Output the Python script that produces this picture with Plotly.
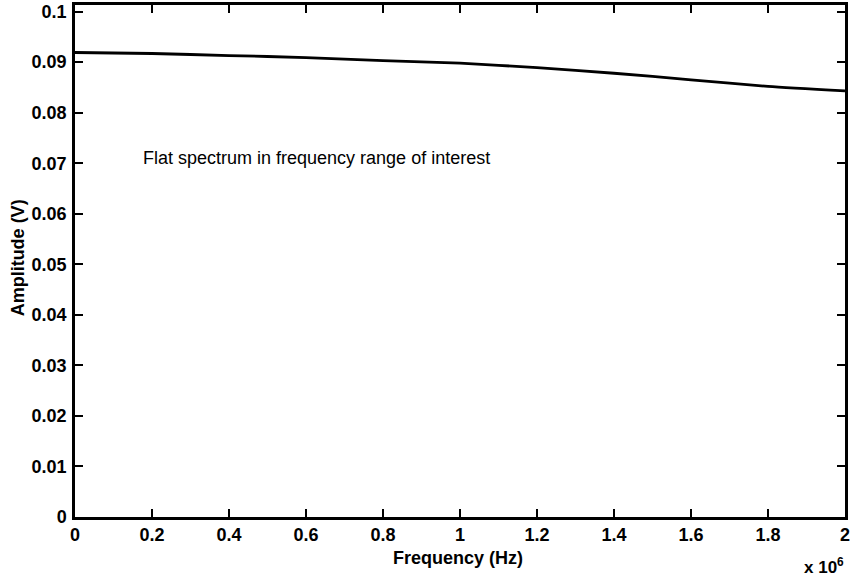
import plotly.graph_objects as go

# Measured spectrum amplitude across the band
freq_hz = [0, 0.2e6, 0.4e6, 0.6e6, 0.8e6, 1.0e6, 1.2e6, 1.4e6, 1.6e6, 1.8e6, 2.0e6]
amplitude_v = [0.0919, 0.0917, 0.0913, 0.0909, 0.0903, 0.0898, 0.0889, 0.0878, 0.0865, 0.0852, 0.0843]

x_tick_vals = [0, 0.2e6, 0.4e6, 0.6e6, 0.8e6, 1.0e6, 1.2e6, 1.4e6, 1.6e6, 1.8e6, 2.0e6]
x_tick_text = ["0", "0.2", "0.4", "0.6", "0.8", "1", "1.2", "1.4", "1.6", "1.8", "2"]
y_tick_vals = [0, 0.01, 0.02, 0.03, 0.04, 0.05, 0.06, 0.07, 0.08, 0.09, 0.1]
y_tick_text = ["0", "0.01", "0.02", "0.03", "0.04", "0.05", "0.06", "0.07", "0.08", "0.09", "0.1"]

FONT = "Liberation Sans, Arial, Helvetica, sans-serif"
W, H = 852, 581
L, R, T, B = 75, 2, 5, 64


def px(x):
    return (x - L) / (W - L - R)


def py(y):
    return (H - B - y) / (H - T - B)


fig = go.Figure()
fig.add_trace(go.Scatter(
    x=freq_hz, y=amplitude_v, mode="lines",
    line=dict(color="black", width=2.8, shape="spline", smoothing=0.6),
    showlegend=False, hoverinfo="skip",
))

axis_common = dict(
    showline=True, linecolor="black", linewidth=2.5, mirror="ticks",
    ticks="inside", ticklen=8, tickwidth=2, tickcolor="black",
    showgrid=False, zeroline=False, ticklabeloverflow="allow",
    tickfont=dict(family=FONT, size=18, color="black", weight="bold"),
)

fig.update_xaxes(range=[0, 2e6], tickmode="array", tickvals=x_tick_vals,
                 ticktext=x_tick_text, **axis_common)
fig.update_yaxes(range=[0, 0.1013], tickmode="array", tickvals=y_tick_vals,
                 ticktext=y_tick_text, ticklabelstandoff=2, **axis_common)

annotations = [
    dict(text="Frequency (Hz)", x=px(460), y=py(558), xref="paper", yref="paper",
         showarrow=False, xanchor="center", yanchor="middle",
         font=dict(family=FONT, size=18, color="black", weight="bold")),
    dict(text="Amplitude (V)", x=px(18), y=py(258), xref="paper", yref="paper",
         showarrow=False, xanchor="center", yanchor="middle", textangle=-90,
         font=dict(family=FONT, size=18, color="black", weight="bold")),
    dict(text="x 10<sup>6</sup>", x=px(851), y=py(566), xref="paper", yref="paper",
         showarrow=False, xanchor="right", yanchor="middle",
         font=dict(family=FONT, size=17, color="black", weight="bold")),
    dict(text="Flat spectrum in frequency range of interest", x=px(141), y=py(158),
         xref="paper", yref="paper", showarrow=False, xanchor="left", yanchor="middle",
         font=dict(family=FONT, size=18, color="black")),
]

fig.update_layout(
    width=W, height=H,
    margin=dict(l=L, r=R, t=T, b=B),
    paper_bgcolor="white", plot_bgcolor="white",
    annotations=annotations,
)

fig.write_html("out.html")
